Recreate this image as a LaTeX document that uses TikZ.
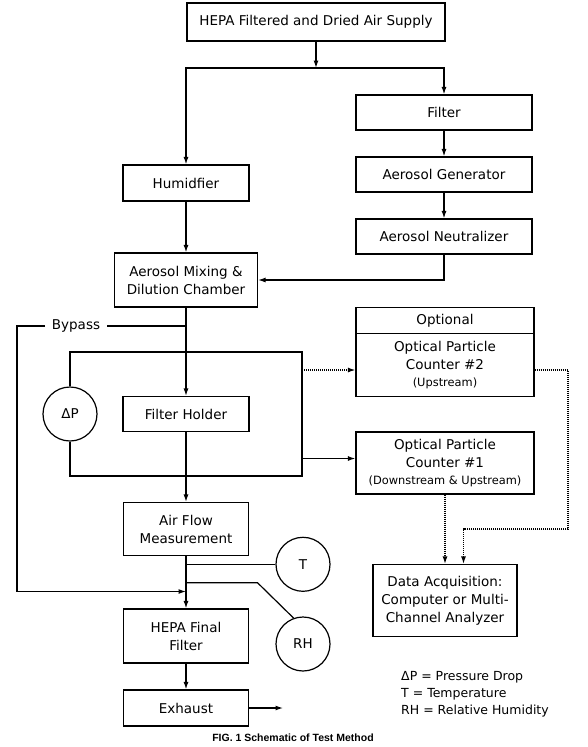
\documentclass[tikz,border=0pt]{standalone}
\usepackage{fontspec}
\setmainfont{DejaVu Sans}
\newfontfamily\capfont{Liberation Sans}
\usetikzlibrary{arrows.meta,calc}

\begin{document}
\begin{tikzpicture}[x=1pt,y=-1pt] % pixel grid, y grows downwards
\tikzset{every node/.style={font=\fontsize{13.5}{18}\selectfont}} % text size of all boxes
\tikzset{box/.style={draw,rectangle,line width=1.2pt,align=center,inner sep=0pt}} % plain boxes
\tikzset{gauge/.style={draw,circle,line width=1.2pt,minimum size=54pt,inner sep=0pt}} % meters on the line
\tikzset{pipe/.style={line width=1.2pt}}
\tikzset{flow/.style={pipe,-{Latex[length=7.5pt,width=5pt]}}} % air flow with arrow
\tikzset{signal/.style={flow,dash pattern=on 1pt off 1pt}} % dotted data lines
\useasboundingbox (0,0) rectangle (587,747);

% main air line
\node[box,minimum width=258pt,minimum height=38pt] (supply) at (316,22) {HEPA Filtered and Dried Air Supply};
\node[box,minimum width=126pt,minimum height=36pt] (humid) at (186,183) {Humidfier};
\node[box,minimum width=143pt,minimum height=54pt] (mix) at (186,280) {Aerosol Mixing \&\\Dilution Chamber};
\node[box,minimum width=126pt,minimum height=35pt] (holder) at (186,414) {Filter Holder};
\node[box,minimum width=125pt,minimum height=53pt] (airflow) at (186,529) {Air Flow\\Measurement};
\node[box,minimum width=125pt,minimum height=54pt] (final) at (186,636) {HEPA Final\\Filter};
\node[box,minimum width=125pt,minimum height=36pt] (exhaust) at (186,708) {Exhaust};

% aerosol branch and counters
\node[box,minimum width=176pt,minimum height=35pt] (filter) at (444,112.5) {Filter};
\node[box,minimum width=176pt,minimum height=35pt] (generator) at (444,174.5) {Aerosol Generator};
\node[box,minimum width=176pt,minimum height=35pt] (neutral) at (444,236.5) {Aerosol Neutralizer};
\node[box,minimum width=178pt,minimum height=26pt] (optional) at (445,320.5) {Optional};
\node[box,minimum width=178pt,minimum height=63pt] (opc2) at (445,365) {Optical Particle\\Counter \#2\\[-1pt]{\fontsize{11.4}{18}\selectfont (Upstream)}};
\node[box,minimum width=178pt,minimum height=62pt] (opc1) at (445,463) {Optical Particle\\Counter \#1\\[-1pt]{\fontsize{11.4}{18}\selectfont (Downstream \& Upstream)}};
\node[box,minimum width=144pt,minimum height=72pt] (daq) at (445,600.5) {Data Acquisition:\\Computer or Multi-\\Channel Analyzer};

% meters
\node[gauge] (dp) at (70,414) {ΔP};
\node[gauge] (temp) at (303,564.3) {T};
\node[gauge] (rh) at (303,644) {RH};

\node[inner xsep=6.5pt,inner ysep=0pt] (bypass) at (76,326) {Bypass};
\node[anchor=north west,align=left,inner sep=0pt,font=\fontsize{12.5}{17}\selectfont] (legend) at (401,671) {ΔP = Pressure Drop\\T = Temperature\\RH = Relative Humidity};
\node[font=\capfont\bfseries\fontsize{10.5}{12}\selectfont] (caption) at (293,738) {FIG. 1 Schematic of Test Method};

% supply split
\coordinate (split) at (316,68);
\draw[flow] (supply) -- (split);
\draw[flow] (split) -| (humid);
\draw[flow] (split) -| (filter);
\draw[flow] (filter) -- (generator);
\draw[flow] (generator) -- (neutral);
\draw[flow] (neutral) |- (mix);
\draw[flow] (humid) -- (mix);
\draw[flow] (mix) -- (holder);
\draw[flow] (holder) -- (airflow);
\draw[flow] (airflow) -- (final);
\draw[flow] (final) -- (exhaust);
\draw[flow] (exhaust) -- (283,708);

% bypass
\coordinate (bypasstap) at (186,326);
\coordinate (bypasscorner) at (17,326);
\coordinate (bypassin) at (186,591.5);
\draw[pipe] (bypasstap) -- (bypass);
\draw[flow] (bypass) -- (bypasscorner) |- (bypassin);

% sampling loop round the filter holder
\coordinate (looptl) at (70,352);
\coordinate (looptr) at (302,352);
\coordinate (loopbr) at (302,476);
\coordinate (loopbl) at (70,476);
\draw[pipe] (dp) -- (looptl) -- (looptr) -- (loopbr) -- (loopbl) -- (dp);
\coordinate (tapup) at (302,370);
\coordinate (tapdown) at (302,458.5);
\draw[signal] (tapup) -- (tapup -| opc2.west);
\draw[flow] (tapdown) -- (tapdown -| opc1.west);

% T and RH
\coordinate (ttap) at (186,564.3);
\coordinate (rhtap) at (186,582.7);
\coordinate (rhbend) at (257.5,582.7);
\draw[pipe] (ttap) -- (temp);
\draw[pipe] (rhtap) -- (rhbend) -- (rh.110);

% data lines
\coordinate (sigdown) at (568,529);
\coordinate (sigin) at (463.5,529);
\draw[signal] (opc1) -- (opc1 |- daq.north);
\draw[signal] (opc2.east |- tapup) -| (sigdown) -| (sigin |- daq.north);
\end{tikzpicture}
\end{document}
